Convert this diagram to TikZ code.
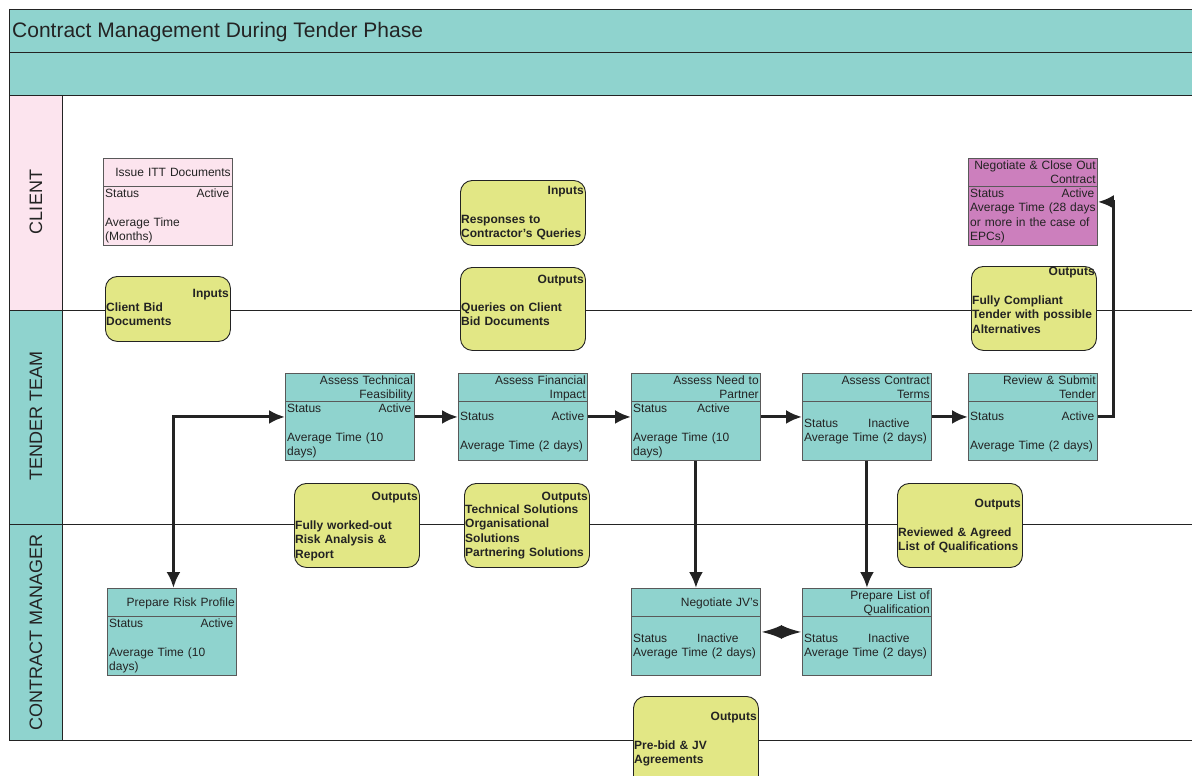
\documentclass[tikz,border=0pt]{standalone}
\usepackage{fontspec}
\setmainfont{Liberation Sans}
\usetikzlibrary{arrows.meta}

\definecolor{laneteal}{RGB}{143,211,206}
\definecolor{lanepink}{RGB}{252,228,238}
\definecolor{closemauve}{RGB}{204,127,189}
\definecolor{noteyellow}{RGB}{226,231,133}
\definecolor{inkgrey}{RGB}{35,35,35}

\tikzset{
  lane line/.style={draw=inkgrey, line width=0.8pt},
  proc/.style={draw=black!65, line width=0.9pt, minimum width=129pt, minimum height=87pt, inner sep=0pt, anchor=north west},
  prochead/.style={anchor=base east, align=right, text width=126pt, inner sep=0pt, text=inkgrey, font=\fontsize{12}{14}\selectfont},
  procbody/.style={anchor=base west, align=left, text width=124pt, inner sep=0pt, text=inkgrey, font=\fontsize{12}{14.5}\selectfont},
  note/.style={draw=inkgrey, line width=0.9pt, fill=noteyellow, rounded corners=12pt, minimum width=125pt, inner sep=0pt, anchor=north west},
  notehead/.style={anchor=base east, inner sep=0pt, text=inkgrey, font=\fontsize{12}{14.5}\selectfont\bfseries},
  notebody/.style={anchor=base west, align=left, text width=124pt, inner sep=0pt, text=inkgrey, font=\fontsize{12}{14.6}\selectfont\bfseries},
  lanelabel/.style={rotate=90, inner sep=0pt, text=inkgrey, font=\fontsize{18}{20}\selectfont},
  conn/.style={line width=3pt, draw=inkgrey, -{Latex[length=16pt,width=14pt]}},
  twoway/.style={{Latex[length=16pt,width=14pt]}-{Latex[length=16pt,width=14pt]}},
}

% name, NW corner, fill, header offset, header, body offset, body
\newcommand{\procbox}[7]{%
  \node[proc, fill=#3] (#1) at (#2) {};
  \draw[draw=black!65, line width=0.9pt] ([yshift=-28pt]#1.north west) -- ([yshift=-28pt]#1.north east);
  \node[prochead] (#1-head) at ([xshift=-2pt,yshift=-#4pt]#1.north east) {#5};
  \node[procbody] (#1-body) at ([xshift=2pt,yshift=-#6pt]#1.north west) {#7};
}
% name, NW corner, height, label, label offset, body offset, body
\newcommand{\notebox}[7]{%
  \node[note, minimum height=#3pt] (#1) at (#2) {};
  \node[notehead] (#1-head) at ([xshift=-2pt,yshift=-#5pt]#1.north east) {#4};
  \node[notebody] (#1-body) at ([xshift=1pt,yshift=-#6pt]#1.north west) {#7};
}

\begin{document}
\begin{tikzpicture}[x=1pt, y=-1pt]
  \clip (0,0) rectangle (1192,776);
  \fill[white] (0,0) rectangle (1192,776);

  % title bands and lanes
  \fill[laneteal] (9,9) rectangle (1200,95);
  \fill[lanepink] (9,95) rectangle (62,310);
  \fill[laneteal] (9,310) rectangle (62,740);
  \foreach \y in {9, 52, 95, 310, 524, 740}{
      \draw[lane line] (9,\y) -- (1200,\y);
    }
  \draw[lane line] (9,9) -- (9,740);
  \draw[lane line] (62,95) -- (62,740);

  \node[anchor=base west, inner sep=0pt, text=inkgrey, font=\fontsize{21}{24}\selectfont] (title) at (12,37.5) {Contract Management During Tender Phase};
  \node[lanelabel] (client) at (36,202) {CLIENT};
  \node[lanelabel] (tender) at (36,416) {TENDER TEAM};
  \node[lanelabel] (manager) at (36,632) {CONTRACT MANAGER};

  % process boxes
  \procbox{itt}{103,158}{lanepink}{18.5}{Issue ITT Documents}{39}{Status\hfill Active\\[14.5pt]Average Time\\(Months)}
  \procbox{close}{968,158}{closemauve}{11.5}{Negotiate \& Close Out\\Contract}{39}{Status\hfill Active\hspace*{2pt}\\\makebox[124pt][s]{Average Time (28 days}\\or more in the case of\\EPCs)}
  \procbox{tech}{285,373}{laneteal}{11.5}{Assess Technical\\Feasibility}{39}{Status\hfill Active\\[14.5pt]Average Time (10\\days)}
  \procbox{fin}{458,373}{laneteal}{11.5}{Assess Financial\\Impact}{47}{Status\hfill Active\\[14.5pt]Average Time (2 days)}
  \procbox{need}{631,373}{laneteal}{11.5}{Assess Need to\\Partner}{39}{\makebox[64pt][l]{Status}Active\\[14.5pt]Average Time (10\\days)}
  \procbox{terms}{802,373}{laneteal}{11.5}{Assess Contract\\Terms}{54}{\makebox[64pt][l]{Status}Inactive\\Average Time (2 days)}
  \procbox{review}{968,373}{laneteal}{11.5}{Review \& Submit\\Tender}{47}{Status\hfill Active\hspace*{2pt}\\[14.5pt]Average Time (2 days)}
  \procbox{risk}{107,588}{laneteal}{18.5}{Prepare Risk Profile}{39}{Status\hfill Active\\[14.5pt]Average Time (10\\days)}
  \procbox{jv}{631,588}{laneteal}{18.5}{Negotiate JV's}{54}{\makebox[64pt][l]{Status}Inactive\\Average Time (2 days)}
  \procbox{list}{802,588}{laneteal}{11.5}{Prepare List of\\Qualification}{54}{\makebox[64pt][l]{Status}Inactive\\Average Time (2 days)}

  % inputs and outputs
  \notebox{clientin}{105,276}{65}{Inputs}{21}{35}{Client Bid\\Documents}
  \notebox{replyin}{460,180}{65}{Inputs}{14}{43}{Responses to\\Contractor’s Queries}
  \notebox{queryout}{460,267}{83}{Outputs}{16}{44}{Queries on Client\\Bid Documents}
  \notebox{tenderout}{971,266}{84}{Outputs}{9}{38}{Fully Compliant\\Tender with possible\\Alternatives}
  \notebox{riskout}{294,483}{84}{Outputs}{17}{46}{Fully worked-out\\Risk Analysis \&\\Report}
  \notebox{solout}{464,483}{84}{Outputs}{17}{30}{Technical Solutions\\Organisational\\Solutions\\Partnering Solutions}
  \notebox{qualout}{897,483}{84}{Outputs}{24}{53}{Reviewed \& Agreed\\List of Qualifications}
  \notebox{jvout}{633,696}{95}{Outputs}{24}{53}{Pre-bid \& JV\\Agreements}

  % connectors
  \draw[conn, twoway] ([xshift=1.5pt]risk.north) |- (tech.west);
  \foreach \a/\b in {tech/fin, fin/need, need/terms, terms/review}{
      \draw[conn] (\a.east) -- (\b.west);
    }
  \draw[conn] (review.east) -- ++(16,0) |- (close.east);
  \draw[conn] (need.south) -- (jv.north);
  \draw[conn] (terms.south) -- (list.north);
  \draw[conn, {Latex[length=21pt,width=14pt]}-{Latex[length=21pt,width=14pt]}] (jv.east) -- (list.west);
\end{tikzpicture}
\end{document}
